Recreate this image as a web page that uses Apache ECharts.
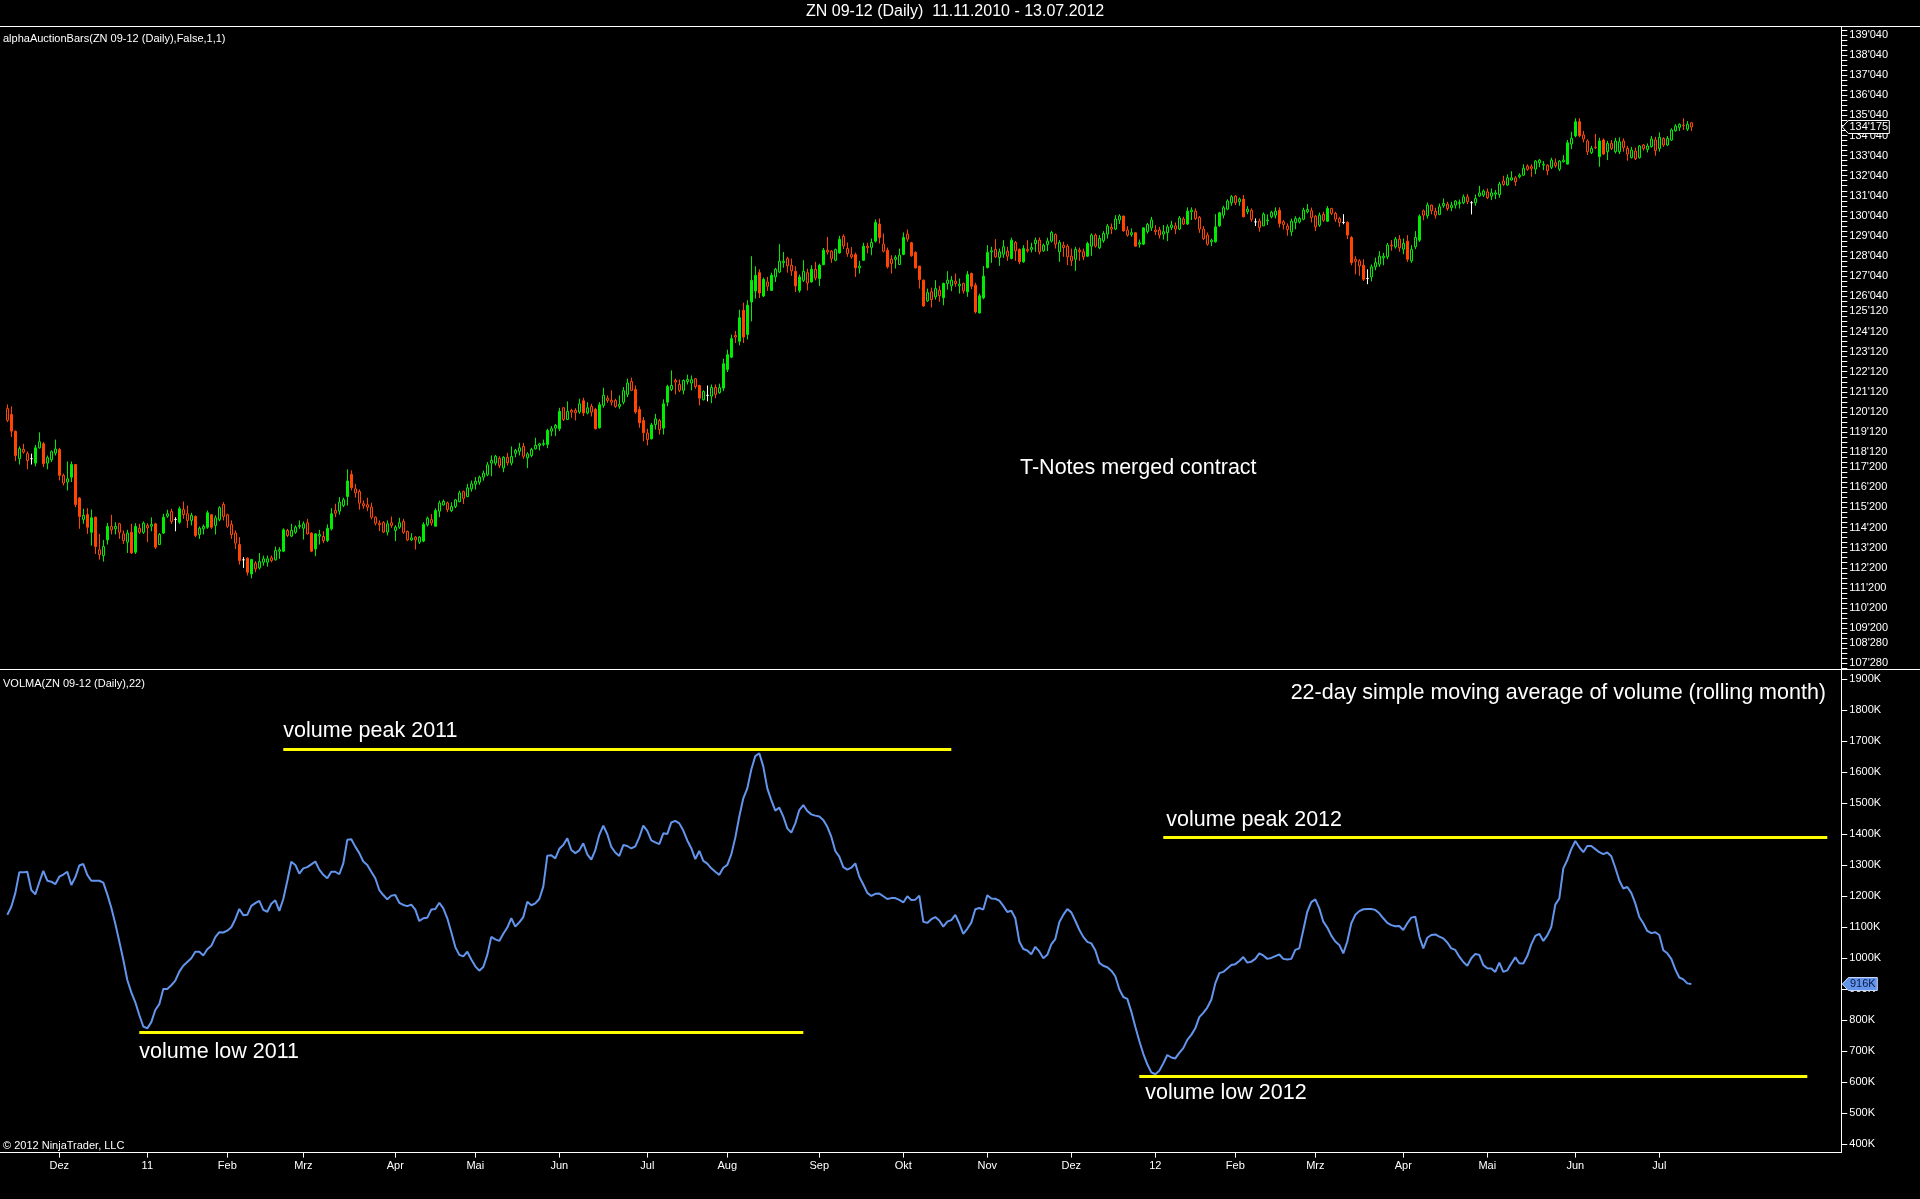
<!DOCTYPE html>
<html>
<head>
<meta charset="utf-8">
<title>ZN 09-12 (Daily)</title>
<script src="https://cdn.jsdelivr.net/npm/echarts@6/dist/echarts.min.js"></script>
<style>
  html, body { margin: 0; padding: 0; background: #000; }
  #chart { width: 1920px; height: 1199px; }
</style>
</head>
<body>
<div id="chart"></div>
<script>
const firstDay = '2010-11-11'
const holidays = ['2010-11-25', '2010-12-24', '2011-01-17', '2011-02-21', '2011-04-22', '2011-05-30',
    '2011-07-04', '2011-09-05', '2011-11-24', '2011-12-26', '2012-01-02', '2012-01-16', '2012-02-20',
    '2012-05-28', '2012-07-04']
const slotCount = 459
const monthNames = ['Jan', 'Feb', 'Mrz', 'Apr', 'Mai', 'Jun', 'Jul', 'Aug', 'Sep', 'Okt', 'Nov', 'Dez']

const priceLabels = [139.125, 138.125, 137.125, 136.125, 135.125, 134.125, 133.125, 132.125, 131.125, 130.125,
    129.125, 128.125, 127.125, 126.125, 125.375, 124.375, 123.375, 122.375, 121.375, 120.375, 119.375, 118.375,
    117.625, 116.625, 115.625, 114.625, 113.625, 112.625, 111.625, 110.625, 109.625, 108.875, 107.875]
const volumeLabels = [400, 500, 600, 700, 800, 900, 1000, 1100, 1200, 1300, 1400, 1500, 1600, 1700, 1800, 1900]

// [open, close, low, high]
const ohlc = [
    [120.54,119.96,119.87,120.75],[120.25,119.42,119.13,120.65],[119.41,118.21,117.93,119.46],[118.05,118.55,117.76,118.66],
    [118.51,118.38,118.30,118.79],[118.30,117.96,117.52,118.41],[118.05,118.05,117.76,118.30],[117.83,118.59,117.67,118.74],
    [118.59,118.89,118.55,119.36],[118.79,117.80,117.63,118.88],[117.83,118.10,117.52,118.21],[118.00,118.40,117.88,118.46],
    [118.33,118.53,118.21,119.00],[118.50,117.22,116.97,118.59],[117.22,116.84,116.72,117.30],[116.89,117.05,116.47,117.91],
    [117.13,117.76,116.89,117.91],[117.76,115.77,115.64,117.76],[116.09,115.18,114.56,116.14],[115.03,115.23,114.81,115.56],
    [115.27,114.64,114.31,115.59],[114.39,115.11,113.73,115.52],[115.14,113.68,113.31,115.17],[113.52,113.28,113.03,114.31],
    [113.23,113.68,112.93,114.01],[114.01,114.68,113.78,114.86],[114.68,114.51,114.28,115.26],[114.56,114.68,114.28,114.89],
    [114.81,114.39,114.06,114.86],[114.31,113.98,113.81,114.48],[113.90,114.35,113.36,114.51],[114.39,113.36,113.31,114.81],
    [113.40,114.68,113.31,114.84],[114.59,114.39,114.31,114.81],[114.39,114.84,114.31,114.93],[114.73,114.61,113.90,114.84],
    [114.69,114.78,114.44,115.13],[114.81,113.65,113.56,114.86],[113.78,114.28,113.78,114.35],[114.35,115.14,114.31,115.31],
    [115.19,115.31,115.11,115.51],[115.42,114.93,114.81,115.56],[115.03,115.03,114.44,115.14],[114.89,115.56,114.81,115.67],
    [115.52,115.27,115.06,115.92],[115.31,114.98,114.61,115.72],[114.98,115.23,114.73,115.36],[115.18,114.23,114.15,115.23],
    [114.28,114.59,114.06,114.68],[114.56,114.68,114.28,114.78],[114.64,115.36,114.56,115.47],[115.26,114.64,114.56,115.30],
    [114.73,115.11,114.28,115.23],[115.01,115.61,114.94,115.69],[115.77,115.18,114.98,115.89],[115.26,114.69,114.61,115.31],
    [114.78,114.28,114.06,114.98],[114.35,113.85,113.56,114.48],[113.78,112.98,112.78,114.15],[113.02,113.02,112.62,113.15],
    [113.10,112.40,112.24,113.15],[112.32,113.03,112.10,113.07],[112.85,112.57,112.40,112.95],[112.62,112.93,112.54,113.36],
    [112.90,113.07,112.73,113.23],[112.90,113.07,112.68,113.23],[113.12,112.98,112.90,113.23],[113.02,113.48,112.98,113.68],
    [113.45,113.52,113.07,113.65],[113.45,114.51,113.40,114.59],[114.48,114.23,114.15,114.56],[114.20,114.48,114.15,114.81],
    [114.39,114.64,114.31,114.73],[114.68,114.73,114.56,114.98],[114.59,114.81,114.03,114.93],[114.86,114.31,114.28,115.06],
    [114.35,113.45,113.40,114.39],[113.56,114.31,113.20,114.35],[114.20,114.28,113.78,114.51],[114.18,113.98,113.85,114.44],
    [113.98,114.59,113.90,114.78],[114.56,115.31,114.48,115.59],[115.47,115.34,115.14,115.81],[115.44,115.89,115.27,116.14],
    [115.72,116.01,115.64,116.11],[116.17,116.94,115.72,117.52],[117.27,116.60,116.47,117.47],[116.55,116.35,116.11,116.80],
    [116.42,115.84,115.51,116.52],[115.81,115.71,115.56,115.97],[115.76,115.64,115.44,116.11],[115.64,115.14,115.03,115.86],
    [115.14,114.84,114.73,115.17],[114.84,114.76,114.44,114.98],[114.88,114.40,114.35,114.94],[114.40,114.81,114.23,114.98],
    [114.86,114.73,114.61,115.17],[114.48,114.64,113.95,114.74],[114.64,114.86,114.56,115.11],[114.93,114.39,114.31,115.06],
    [114.43,114.01,113.95,114.48],[114.01,114.11,113.95,114.35],[114.15,114.01,113.53,114.20],[113.90,114.15,113.81,114.20],
    [113.95,114.78,113.90,114.89],[114.76,115.09,114.68,115.17],[115.02,114.85,114.72,115.30],[114.69,115.47,114.69,115.58],
    [115.44,115.85,115.14,115.97],[115.75,115.92,115.72,116.02],[115.85,115.52,115.39,115.92],[115.47,115.67,115.39,115.88],
    [115.67,116.00,115.59,116.05],[115.92,116.35,115.88,116.46],[116.41,116.08,115.80,116.46],[116.17,116.60,116.13,116.80],
    [116.55,116.80,116.41,116.96],[116.78,116.93,116.51,117.13],[116.88,117.13,116.75,117.21],[117.13,117.33,116.96,117.46],
    [117.25,117.74,117.18,117.88],[117.83,117.96,117.18,118.21],[117.83,118.17,117.71,118.24],[118.07,117.71,117.58,118.17],
    [117.59,118.12,117.38,118.17],[118.12,117.84,117.71,118.34],[117.83,118.16,117.71,118.66],[118.32,118.46,118.12,118.54],
    [118.42,118.59,118.21,118.84],[118.66,118.17,118.04,118.84],[118.09,118.29,117.58,118.37],[118.21,118.51,118.12,118.59],
    [118.54,118.71,118.51,119.09],[118.71,118.79,118.46,118.84],[118.76,118.81,118.67,119.00],[118.76,119.45,118.57,119.54],
    [119.42,119.54,119.17,119.67],[119.57,119.70,119.17,119.78],[119.54,120.40,119.42,120.58],[120.58,120.00,119.92,120.61],
    [120.00,120.40,120.00,120.90],[120.45,120.37,120.08,120.53],[120.45,120.33,119.95,120.56],[120.37,120.78,120.28,121.03],
    [120.93,120.32,120.17,121.08],[120.32,120.58,120.25,120.86],[120.65,120.37,120.15,120.78],[120.50,119.54,119.50,120.58],
    [119.59,120.73,119.54,120.86],[120.70,121.20,120.58,121.58],[121.06,120.95,120.83,121.20],[120.95,120.86,120.70,121.45],
    [120.95,120.65,120.58,121.03],[120.65,120.75,120.53,121.20],[120.86,121.43,120.75,121.61],[121.25,121.81,121.11,122.03],
    [121.89,121.45,121.41,122.08],[121.49,120.37,120.28,121.69],[120.50,119.83,119.59,120.65],[119.95,119.34,118.91,120.12],
    [119.32,119.00,118.71,119.54],[119.04,119.73,119.00,119.83],[119.75,120.03,119.50,120.28],[119.95,119.50,119.25,120.03],
    [119.57,120.78,119.25,121.00],[120.86,121.64,120.66,121.73],[121.49,121.69,121.41,122.44],[121.94,121.86,121.25,122.03],
    [121.74,121.45,121.36,121.99],[121.45,121.94,121.25,121.99],[121.89,121.99,121.74,122.23],[121.81,121.98,121.45,122.19],
    [122.03,121.64,121.53,122.06],[121.69,121.06,120.70,121.73],[120.98,121.39,120.95,121.45],[121.20,121.20,120.90,121.69],
    [121.16,121.59,120.81,121.74],[121.59,121.25,121.06,121.74],[121.33,121.58,121.28,121.78],[121.56,122.77,121.41,123.02],
    [122.49,123.22,122.36,123.47],[123.10,124.02,123.05,124.22],[124.18,124.10,123.80,124.40],[123.89,125.06,123.69,125.46],
    [125.43,124.10,123.80,125.81],[124.23,125.68,123.98,125.93],[125.84,126.92,124.88,128.12],[126.39,127.17,126.01,127.62],
    [127.30,126.29,126.04,127.47],[126.14,126.97,126.09,127.06],[126.84,126.62,126.39,127.09],[126.42,127.17,126.42,127.30],
    [127.09,127.47,126.84,127.54],[127.34,127.87,127.29,128.72],[127.80,127.87,127.55,128.33],[128.00,127.64,127.30,128.09],
    [127.67,127.39,127.14,128.00],[127.37,126.64,126.34,127.62],[126.42,127.09,126.31,127.21],[126.92,127.37,126.84,127.92],
    [127.30,126.79,126.42,127.50],[126.84,127.47,126.81,127.67],[127.47,127.04,126.92,127.84],[127.01,127.67,126.64,127.75],
    [127.70,128.42,127.67,128.53],[128.42,128.33,128.20,129.08],[128.37,128.00,127.79,128.42],[127.92,128.45,127.87,128.50],
    [128.28,128.96,128.25,129.13],[129.11,128.63,128.47,129.21],[128.50,128.25,128.09,128.80],[128.20,128.09,128.00,128.58],
    [128.20,127.54,127.09,128.30],[127.54,127.63,127.26,127.89],[127.92,128.62,127.89,128.79],[128.62,128.54,128.26,128.79],
    [128.56,128.80,128.17,129.00],[128.87,129.80,128.80,129.95],[129.72,129.05,128.75,130.00],[128.72,128.37,128.31,129.25],
    [128.42,127.59,127.51,128.55],[127.97,127.76,127.26,128.17],[127.96,128.06,127.51,128.17],[127.71,128.17,127.68,128.50],
    [128.21,129.05,128.17,129.30],[129.22,128.97,128.84,129.45],[128.79,128.14,128.09,128.84],[128.31,127.54,127.51,128.37],
    [127.63,126.96,126.51,127.63],[126.93,125.65,125.60,126.96],[125.90,126.31,125.85,126.51],[126.35,125.96,125.57,126.56],
    [126.10,126.51,125.96,126.93],[126.43,126.15,125.85,126.65],[126.06,126.76,125.68,126.81],[126.76,126.93,126.46,127.38],
    [126.65,126.93,126.38,127.13],[126.88,126.76,126.60,127.26],[126.65,126.73,126.26,127.01],[126.76,126.40,126.26,126.81],
    [126.35,127.21,126.10,127.38],[127.26,126.63,126.48,127.31],[126.68,125.35,125.27,126.80],[125.30,126.15,125.27,126.26],
    [126.05,127.13,125.98,127.63],[127.56,128.31,127.51,128.67],[128.34,128.39,127.79,128.59],[128.46,128.09,128.04,128.97],
    [128.06,128.34,127.64,128.50],[128.22,128.59,128.04,128.92],[128.37,128.12,127.89,128.59],[128.01,128.92,127.96,129.04],
    [128.80,128.39,127.89,128.87],[128.46,127.84,127.72,128.50],[127.84,128.50,127.79,128.67],[128.46,128.39,128.31,128.92],
    [128.46,128.55,128.31,128.79],[128.75,128.92,128.34,129.05],[128.92,128.34,128.21,129.05],[128.39,128.67,128.34,128.75],
    [128.70,128.87,128.37,129.04],[128.87,129.30,128.80,129.38],[129.20,128.72,128.50,129.25],[128.34,128.80,127.84,128.92],
    [128.67,128.55,128.09,128.84],[128.62,128.09,127.68,128.72],[128.12,127.89,127.63,128.50],[127.97,128.46,127.39,128.59],
    [128.42,128.34,127.89,128.55],[128.34,128.09,127.92,128.50],[128.12,128.75,128.09,128.84],[128.62,129.17,128.14,129.25],
    [129.17,128.62,128.55,129.25],[128.54,129.00,128.47,129.17],[128.89,129.25,128.79,129.37],[129.22,129.62,129.00,129.72],
    [129.55,129.47,129.22,129.75],[129.47,129.97,129.42,130.16],[129.92,130.12,129.72,130.21],[130.12,129.38,129.34,130.13],
    [129.42,129.17,129.09,129.62],[129.20,129.29,129.09,129.50],[129.29,128.62,128.59,129.30],[128.72,128.79,128.55,128.95],
    [128.72,129.53,128.67,129.55],[129.34,129.70,129.25,129.78],[129.53,129.92,129.38,130.08],[129.42,129.34,129.17,129.67],
    [129.42,129.17,129.00,129.58],[129.22,129.34,128.95,129.67],[129.29,129.58,128.87,129.70],[129.55,129.67,129.42,129.88],
    [129.63,129.47,129.22,129.80],[129.47,130.02,129.42,130.12],[129.97,129.72,129.67,130.08],[129.72,130.36,129.67,130.55],
    [130.33,130.41,129.92,130.55],[130.36,130.00,129.92,130.50],[130.05,129.47,129.28,130.12],[129.47,129.00,128.92,129.62],
    [129.17,128.72,128.64,129.30],[128.84,128.92,128.62,129.00],[128.84,129.58,128.79,130.21],[129.63,130.28,129.58,130.33],
    [130.16,130.53,130.00,130.63],[130.46,130.86,130.41,130.95],[130.78,131.08,130.63,131.16],[131.11,130.78,130.66,131.16],
    [130.83,130.96,130.63,131.04],[130.96,130.08,130.05,131.16],[130.33,130.46,130.21,130.61],[130.41,129.95,129.83,130.50],
    [129.83,129.83,129.62,130.00],[129.87,129.55,129.34,130.00],[129.63,130.21,129.62,130.30],[129.88,129.92,129.67,130.20],
    [130.08,130.30,130.00,130.38],[130.16,130.36,130.00,130.55],[130.41,129.75,129.55,130.55],[129.83,129.70,129.45,129.92],
    [129.62,129.45,129.14,129.75],[129.33,129.86,129.13,129.99],[129.80,129.99,129.46,130.11],[129.83,129.99,129.75,130.08],
    [129.96,130.41,129.91,130.53],[130.33,130.44,130.25,130.71],[130.38,130.05,129.80,130.54],[130.11,129.58,129.37,130.16],
    [129.66,130.16,129.58,130.29],[130.20,129.91,129.83,130.33],[129.86,130.49,129.83,130.61],[130.49,130.25,130.16,130.53],
    [130.25,129.96,129.83,130.33],[129.99,129.80,129.58,130.08],[129.80,129.80,129.71,130.21],[129.80,129.17,128.97,129.86],
    [129.05,127.80,127.67,129.12],[127.97,127.87,127.22,128.12],[127.89,127.64,127.14,127.97],[127.67,126.97,126.89,127.97],
    [127.01,127.01,126.73,127.47],[127.09,127.59,126.87,127.71],[127.59,127.80,127.42,128.05],[127.72,128.12,127.59,128.37],
    [128.04,128.12,127.67,128.29],[128.09,128.67,127.97,128.78],[128.67,128.63,128.39,128.92],[128.59,128.97,128.50,129.08],
    [128.97,128.54,128.34,129.17],[128.47,128.75,128.22,129.00],[128.87,127.97,127.84,129.17],[127.89,128.45,127.79,128.67],
    [128.59,129.05,128.47,129.37],[128.92,130.11,128.83,130.20],[130.38,130.16,129.91,130.44],[130.13,130.66,129.99,130.79],
    [130.66,130.38,130.20,130.69],[130.36,130.16,129.99,130.53],[130.20,130.58,130.16,130.74],[130.63,130.74,130.53,130.99],
    [130.71,130.49,130.38,130.83],[130.54,130.66,130.36,130.83],[130.66,130.86,130.49,130.91],[130.74,130.79,130.49,130.94],
    [130.78,131.07,130.71,131.19],[131.07,130.83,130.71,131.21],[130.78,130.78,130.20,130.86],[130.78,130.99,130.63,131.19],
    [131.12,131.27,131.07,131.62],[131.16,131.36,131.07,131.44],[131.32,131.03,130.96,131.49],[131.11,131.27,130.91,131.49],
    [131.21,131.27,130.96,131.41],[131.19,131.71,131.03,131.82],[131.86,131.69,131.62,132.12],[131.66,132.02,131.62,132.19],
    [131.91,132.02,131.87,132.35],[132.02,131.82,131.61,132.10],[132.07,132.15,131.99,132.24],[132.15,132.49,132.12,132.69],
    [132.60,132.44,132.37,132.69],[132.57,132.49,132.07,132.69],[132.45,132.85,132.20,132.90],[132.77,132.90,132.54,132.95],
    [132.65,132.69,132.40,132.85],[132.65,132.37,132.15,132.69],[132.54,132.90,132.45,133.02],[132.77,132.62,132.52,132.98],
    [132.45,132.85,132.35,132.90],[132.82,132.90,132.78,133.15],[132.70,133.76,132.69,133.90],[133.70,133.98,133.45,134.31],
    [134.10,134.81,134.03,134.98],[134.81,134.11,134.03,134.98],[134.15,133.95,133.78,134.35],[133.85,133.32,133.15,133.93],
    [133.27,133.48,133.20,133.61],[133.55,133.52,133.45,134.20],[133.07,133.85,132.57,134.01],[133.90,133.20,133.15,133.98],
    [133.32,133.73,132.90,133.86],[133.73,133.48,133.40,133.90],[133.32,133.85,133.23,134.01],[133.32,133.81,133.20,134.03],
    [133.85,133.52,133.32,133.98],[133.48,133.20,132.87,133.61],[133.03,133.40,132.98,133.56],[133.35,132.98,132.90,133.52],
    [133.02,133.60,132.98,133.65],[133.65,133.48,133.37,133.70],[133.43,133.60,133.28,133.73],[133.57,133.95,133.52,134.10],
    [133.90,133.37,133.12,134.06],[133.48,134.03,133.32,134.28],[133.98,133.65,133.56,134.03],[133.65,133.98,133.60,134.10],
    [133.90,134.40,133.86,134.48],[134.36,134.59,134.31,134.69],[134.53,134.68,134.35,134.73],[134.64,134.61,134.40,134.98],
    [134.44,134.68,134.35,134.84],[134.76,134.547,134.35,134.78]
]

// 22-day SMA of volume, in thousands
const volma = [
    1139,1165,1209,1276,1276,1278,1219,1205,1244,1281,
    1249,1246,1238,1262,1269,1278,1235,1260,1298,1303,
    1268,1249,1249,1249,1243,1205,1162,1110,1053,994,
    929,889,857,816,779,773,793,832,851,900,
    900,912,927,956,975,987,999,1020,1020,1008,
    1028,1039,1067,1083,1082,1088,1099,1125,1158,1138,
    1139,1168,1177,1184,1155,1149,1175,1186,1152,1190,
    1248,1310,1300,1272,1289,1293,1302,1311,1285,1268,
    1257,1278,1278,1270,1305,1381,1383,1359,1338,1311,
    1300,1278,1257,1219,1203,1189,1201,1203,1178,1171,
    1167,1172,1156,1119,1128,1130,1156,1158,1178,1160,
    1128,1083,1035,1010,1005,1020,995,973,959,971,
    1010,1068,1060,1055,1078,1098,1128,1101,1115,1132,
    1181,1170,1176,1190,1230,1330,1331,1321,1352,1364,
    1386,1348,1338,1347,1370,1334,1317,1348,1397,1427,
    1399,1358,1340,1329,1364,1361,1353,1360,1389,1427,
    1410,1379,1373,1367,1402,1400,1437,1442,1434,1411,
    1379,1354,1319,1345,1313,1304,1289,1278,1268,1291,
    1300,1334,1388,1456,1515,1547,1608,1651,1660,1617,
    1547,1509,1475,1485,1456,1418,1404,1434,1477,1493,
    1474,1463,1459,1456,1445,1423,1391,1345,1327,1293,
    1285,1291,1305,1262,1237,1210,1200,1207,1208,1199,
    1190,1193,1193,1187,1179,1199,1187,1188,1201,1117,
    1113,1125,1132,1121,1101,1117,1122,1139,1111,1078,
    1094,1114,1157,1161,1156,1202,1192,1191,1185,1168,
    1148,1152,1128,1053,1029,1024,1012,1036,1021,999,
    1010,1044,1061,1115,1139,1158,1147,1120,1091,1068,
    1052,1047,1025,984,975,970,959,941,899,874,
    868,827,778,732,691,657,631,625,636,660,
    687,679,676,694,709,736,752,773,809,823,
    840,865,918,951,955,966,977,980,990,1003,
    985,988,997,1015,1008,997,1000,1006,1011,997,
    995,997,1026,1031,1090,1149,1180,1189,1160,1117,
    1098,1072,1053,1042,1015,1053,1112,1139,1151,1157,
    1158,1158,1155,1144,1128,1113,1106,1102,1103,1090,
    1112,1130,1133,1069,1031,1065,1074,1076,1069,1063,
    1050,1031,1026,1004,987,975,999,1013,1010,977,
    967,966,955,985,955,960,982,1002,983,982,
    1006,1044,1071,1078,1055,1073,1100,1172,1192,1289,
    1316,1351,1377,1357,1341,1361,1361,1351,1341,1335,
    1340,1328,1291,1250,1224,1229,1210,1176,1132,1112,
    1087,1080,1083,1074,1025,1015,997,963,937,931,
    918,916
]

const levelNames = ['volume peak 2011', 'volume low 2011', 'volume peak 2012', 'volume low 2012']
const levelValues = [1673, 762, 1390, 619]
const levelFrom = [69, 33, 289, 283]
const levelTo = [236, 199, 455, 450]

const GREEN = '#00ec00'
const RED = '#ff4500'
const FONT = 'Liberation Sans, Arial, sans-serif'
const gridLeft = 5.3
const gridRight = 78.7
const axisX = 1920 - gridRight

const buildDates = () => {
    const out = []
    const d = new Date(firstDay + 'T00:00:00Z')
    while (out.length < slotCount) {
        const wd = d.getUTCDay()
        const iso = d.toISOString().slice(0, 10)
        if (wd !== 0 && wd !== 6 && !holidays.includes(iso)) out.push(iso)
        d.setUTCDate(d.getUTCDate() + 1)
    }
    return out
}
const dates = buildDates()

const monthStart = new Set()
dates.forEach((iso, i) => {
    if (i > 0 && i < ohlc.length && iso.slice(5, 7) !== dates[i - 1].slice(5, 7)) monthStart.add(i)
})
const monthLabel = (iso) => {
    const m = +iso.slice(5, 7)
    return m === 1 ? iso.slice(2, 4) : monthNames[m - 1]
}

const to32nds = (v) => {
    const whole = Math.floor(v + 1e-9)
    const frac = Math.round((v - whole) * 320)
    return whole + "'" + String(frac).padStart(3, '0')
}

const priceTicks = []
for (let v = 107.625; v <= 139.5; v += 0.25) priceTicks.push(v)

const candleData = ohlc.map(([o, c, l, h]) => {
    const col = o === c ? '#ffffff' : (c > o ? GREEN : RED)
    const fill = (o === c || Math.abs(c - o) >= 0.6) ? col : '#000000'
    return {
        value: [o, c, l, h],
        itemStyle: {color: fill, color0: fill, borderColor: col, borderColor0: col, borderColorDoji: col}
    }
})

const labelOffsets = [[0, 7], [0, 9], [3, 6], [6, 6]]
const levelLines = levelNames.map((name, k) => {
    const peak = name.indexOf('peak') >= 0
    return [
        {
            coord: [levelFrom[k], levelValues[k]],
            label: {
                show: true,
                formatter: name,
                position: peak ? 'insideStartTop' : 'insideStartBottom',
                distance: labelOffsets[k],
                color: '#ffffff',
                fontSize: 21.5,
                fontFamily: FONT
            }
        },
        {coord: [levelTo[k], levelValues[k]]}
    ]
})

const textEl = (id, text, pos, size) => ({
    type: 'text', id, z: 50, ...pos,
    style: {text, fill: '#ffffff', font: size + 'px ' + FONT}
})

const frameLine = (id, x1, y1, x2, y2) => ({
    type: 'line', id, z: 40, shape: {x1, y1, x2, y2}, style: {stroke: '#ffffff', lineWidth: 1}
})

const option = {
    backgroundColor: '#000000',
    animation: false,
    grid: [
        {left: gridLeft, right: gridRight, top: 27, height: 642},
        {left: gridLeft, right: gridRight, top: 669.6, height: 483}
    ],
    xAxis: [
        {type: 'category', gridIndex: 0, data: dates, boundaryGap: true, show: false},
        {
            type: 'category', gridIndex: 1, data: dates, boundaryGap: true,
            axisLine: {lineStyle: {color: '#ffffff', width: 1}},
            axisTick: {
                show: true, alignWithLabel: true, length: 5,
                interval: (i) => monthStart.has(i),
                lineStyle: {color: '#ffffff'}
            },
            axisLabel: {
                interval: (i) => monthStart.has(i),
                formatter: (v) => monthLabel(v),
                color: '#ffffff', fontSize: 11, fontFamily: FONT, margin: 8
            },
            splitLine: {show: false}
        }
    ],
    yAxis: [
        {
            type: 'value', gridIndex: 0, position: 'right', min: 107.59, max: 139.52,
            axisLine: {show: true, lineStyle: {color: '#ffffff'}},
            axisTick: {show: true, length: 6, customValues: priceTicks, lineStyle: {color: '#ffffff'}},
            axisLabel: {
                customValues: priceLabels, formatter: (v) => to32nds(v),
                color: '#ffffff', fontSize: 11, fontFamily: FONT, margin: 8
            },
            splitLine: {show: false}
        },
        {
            type: 'value', gridIndex: 1, position: 'right', min: 372.3, max: 1929.9,
            axisLine: {show: true, lineStyle: {color: '#ffffff'}},
            axisTick: {show: true, length: 6, customValues: volumeLabels, lineStyle: {color: '#ffffff'}},
            axisLabel: {
                customValues: volumeLabels, formatter: (v) => v + 'K',
                color: '#ffffff', fontSize: 11, fontFamily: FONT, margin: 8
            },
            splitLine: {show: false}
        }
    ],
    series: [
        {
            name: 'ZN 09-12', type: 'candlestick', xAxisIndex: 0, yAxisIndex: 0,
            barWidth: 3,
            itemStyle: {borderWidth: 1},
            data: candleData
        },
        {
            name: 'VOLMA', type: 'line', xAxisIndex: 1, yAxisIndex: 1,
            data: volma, showSymbol: false, symbol: 'none',
            lineStyle: {color: '#6495ed', width: 2},
            itemStyle: {color: '#6495ed'},
            markLine: {
                silent: true, symbol: ['none', 'none'], animation: false,
                lineStyle: {color: '#ffff00', width: 3, type: 'solid'},
                data: levelLines
            }
        }
    ],
    graphic: [
        frameLine('frameTop', 0, 26.5, 1920, 26.5),
        frameLine('frameMid', 0, 669.5, 1920, 669.5),
        frameLine('frameBottom', 0, 1152.5, axisX, 1152.5),
        textEl('title', 'ZN 09-12 (Daily)  11.11.2010 - 13.07.2012', {left: 806, top: 4}, 16),
        textEl('priceName', 'alphaAuctionBars(ZN 09-12 (Daily),False,1,1)', {left: 3, top: 33}, 11),
        textEl('priceNote', 'T-Notes merged contract', {left: 1020, top: 457}, 21.5),
        textEl('volName', 'VOLMA(ZN 09-12 (Daily),22)', {left: 3, top: 678}, 11),
        textEl('volNote', '22-day simple moving average of volume (rolling month)', {right: 94, top: 682}, 21.5),
        textEl('copyright', '\u00a9 2012 NinjaTrader, LLC', {left: 3, top: 1140}, 11)
    ]
}

const chart = echarts.init(document.getElementById('chart'))
chart.setOption(option)

const badge = (id, y, text, fill, stroke, color, w) => ({
    type: 'group', id, z: 100,
    children: [
        {
            type: 'polygon', z: 100,
            shape: {points: [[axisX + 1, y], [axisX + 7, y - 6.5], [axisX + 7 + w, y - 6.5], [axisX + 7 + w, y + 6.5], [axisX + 7, y + 6.5]]},
            style: {fill, stroke, lineWidth: 1}
        },
        {
            type: 'text', z: 101,
            x: axisX + 7 + w / 2, y,
            style: {text, fill: color, font: '11px ' + FONT, align: 'center', verticalAlign: 'middle'}
        }
    ]
})

const lastClose = ohlc[ohlc.length - 1][1]
const lastVol = volma[volma.length - 1]
const py = chart.convertToPixel({yAxisIndex: 0}, lastClose)
const vy = chart.convertToPixel({yAxisIndex: 1}, lastVol)
option.graphic.push(
    badge('priceBadge', py, to32nds(lastClose), '#000000', '#ffffff', '#ffffff', 41),
    badge('volBadge', vy, lastVol + 'K', '#6495ed', '#c8d6f5', '#0a1a40', 29)
)
chart.setOption(option, true)
</script>
</body>
</html>
